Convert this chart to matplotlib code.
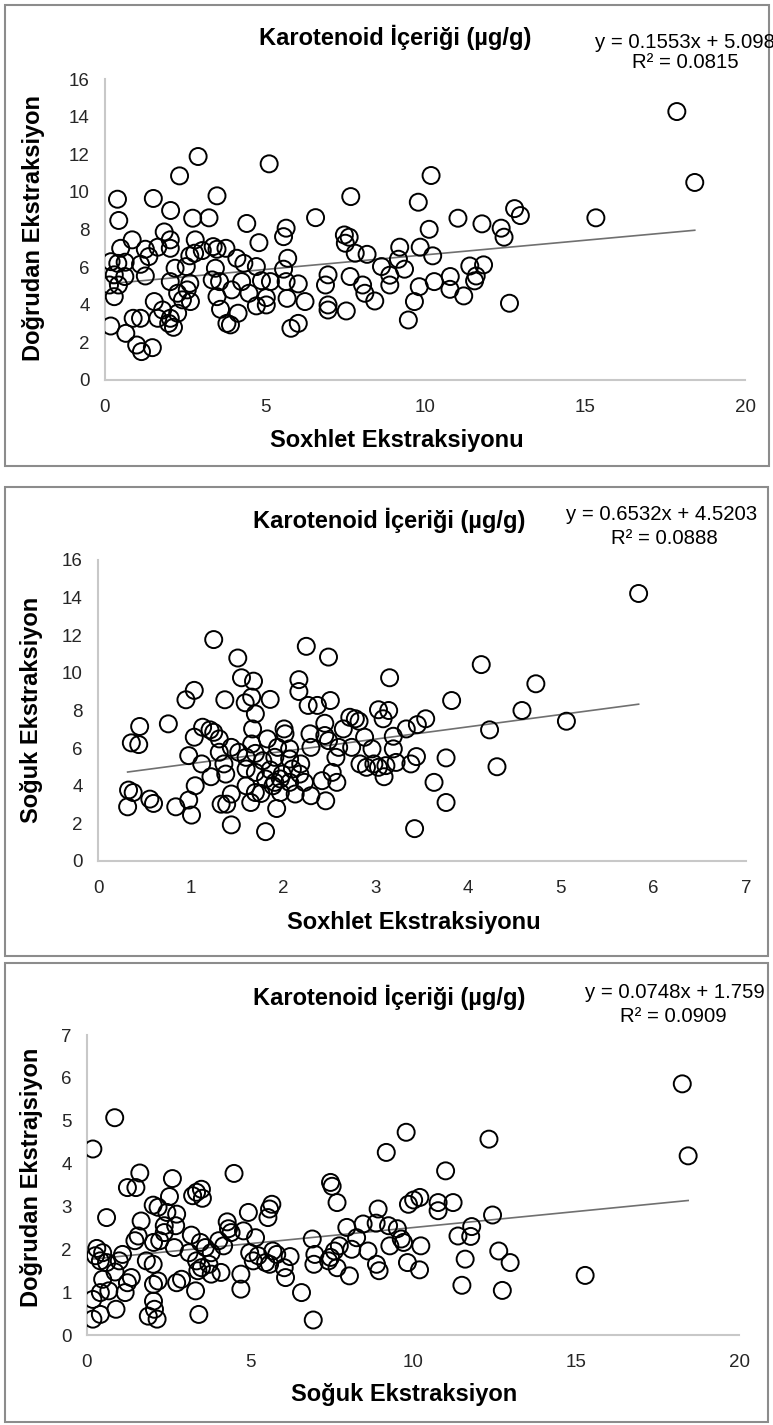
import numpy as np
import matplotlib
matplotlib.use('Agg')
import matplotlib.pyplot as plt
from matplotlib.patches import Rectangle

# panel 1: Soxhlet (x) vs Dogrudan (y)
sox_a = [17.87, 18.43, 2.91, 5.13, 2.33, 10.19, 0.39, 1.51, 3.5, 7.68, 9.79, 2.05, 0.43, 2.74, 3.25, 6.58,
         4.43, 11.03, 11.78, 12.8, 12.98, 15.34, 12.38, 12.47, 10.13, 5.66, 5.58, 1.85, 0.85, 2.04, 2.82, 4.81,
         7.48, 7.63, 7.51, 0.49, 1.26, 1.65, 2.04, 3.38, 3.5, 3.78, 9.21, 9.85, 2.8, 3.04, 2.65, 7.82, 8.19,
         5.71, 10.24, 1.37, 0.19, 0.4, 0.63, 1.11, 4.12, 4.34, 9.17, 3.45, 2.19, 2.54, 4.73, 5.58, 8.64, 9.36,
         11.4, 11.83, 8.9, 1.26, 0.62, 0.29, 6.97, 7.66, 10.79, 11.6, 2.04, 3.35, 3.58, 4.27, 4.89, 5.17, 5.66,
         6.04, 6.89, 8.05, 8.9, 9.82, 10.29, 11.55, 0.14, 0.42, 2.65, 3.96, 4.5, 2.57, 2.27, 8.12, 10.78, 11.21,
         0.29, 3.5, 2.42, 2.67, 5.04, 5.69, 6.25, 8.43, 9.67, 12.64, 1.54, 4.73, 5.04, 3.61, 1.8, 6.97, 6.97,
         7.54, 4.16, 2.27, 1.11, 0.88, 1.65, 2.04, 1.99, 2.14, 3.81, 3.92, 6.04, 5.81, 9.48, 0.18, 0.65, 0.99,
         1.14, 1.48]
dog_a = [14.27, 10.5, 11.88, 11.49, 10.85, 10.87, 9.61, 9.65, 9.79, 9.75, 9.45, 9.01, 8.48, 8.6, 8.62, 8.63,
         8.32, 8.6, 8.3, 9.11, 8.74, 8.62, 8.07, 7.59, 8.01, 8.07, 7.62, 7.87, 7.45, 7.45, 7.45, 7.3,
         7.71, 7.59, 7.27, 7.0, 6.95, 7.06, 7.0, 7.09, 6.95, 7.0, 7.06, 7.06, 6.74, 6.88, 6.6, 6.74, 6.68,
         6.47, 6.6, 6.56, 6.29, 6.2, 6.26, 6.15, 6.47, 6.2, 6.42, 5.94, 5.94, 6.03, 6.03, 5.89, 6.03, 5.89,
         6.06, 6.12, 5.57, 5.53, 5.5, 5.59, 5.59, 5.5, 5.5, 5.53, 5.23, 5.32, 5.23, 5.23, 5.28, 5.23, 5.23,
         5.11, 5.05, 5.05, 5.05, 4.96, 5.23, 5.27, 5.05, 5.05, 5.14, 4.79, 4.61, 4.79, 4.61, 4.61, 4.82, 4.47,
         4.43, 4.43, 4.26, 4.17, 4.38, 4.34, 4.17, 4.2, 4.17, 4.08, 4.17, 3.94, 3.99, 3.76, 3.72, 3.99, 3.72,
         3.67, 3.55, 3.55, 3.28, 3.28, 3.28, 3.28, 3.01, 2.8, 3.01, 2.93, 3.01, 2.75, 3.19, 2.87, 2.48, 1.86,
         1.51, 1.72]

# panel 2: Soxhlet (x) vs Soguk (y)
sox_b = [5.84, 1.25, 2.25, 1.51, 2.49, 4.14, 1.55, 1.68, 2.17, 3.15, 4.73, 1.04, 2.17, 0.95, 1.37, 1.66,
         1.59, 1.86, 2.27, 2.37, 2.51, 3.82, 0.76, 1.7, 3.03, 3.14, 3.08, 2.72, 2.78, 2.82, 2.45, 3.54, 3.45,
         4.58, 5.06, 0.45, 1.13, 1.21, 1.25, 1.67, 2.01, 2.02, 2.29, 2.45, 2.65, 3.33, 4.23, 2.88, 3.19, 0.36,
         0.44, 1.04, 1.31, 1.66, 1.83, 1.94, 2.07, 2.3, 2.49, 2.6, 2.74, 2.96, 3.19, 1.31, 1.44, 1.52, 0.98,
         1.12, 1.36, 1.6, 1.7, 1.78, 1.91, 2.07, 2.19, 2.57, 2.83, 2.9, 2.98, 3.03, 3.11, 3.22, 3.38, 3.44,
         3.76, 4.31, 1.6, 1.7, 1.86, 1.99, 2.1, 2.18, 2.53, 1.38, 1.22, 3.09, 1.81, 1.91, 1.97, 1.89, 2.07,
         2.23, 2.42, 2.58, 3.63, 0.33, 0.38, 1.05, 1.6, 1.7, 1.44, 1.76, 1.97, 2.13, 2.3, 0.56, 0.6, 0.98,
         1.33, 1.39, 1.65, 2.46, 3.76, 0.32, 0.84, 1.01, 1.93, 1.44, 1.81, 3.42]
sog_b = [14.22, 11.77, 11.41, 10.79, 10.84, 10.44, 9.74, 9.56, 9.64, 9.74, 9.42, 9.07, 9.01, 8.57, 8.57, 8.71,
         8.41, 8.59, 8.27, 8.27, 8.53, 8.53, 7.29, 7.82, 8.04, 8.0, 7.56, 7.64, 7.56, 7.43, 7.32, 7.56, 7.25,
         8.0, 7.43, 7.15, 7.11, 6.97, 6.84, 7.02, 7.02, 6.76, 6.76, 6.67, 7.02, 7.02, 6.97, 6.58, 6.63, 6.28,
         6.19, 6.58, 6.49, 6.22, 6.49, 6.04, 5.96, 6.04, 6.4, 6.04, 6.04, 5.96, 5.96, 5.78, 6.04, 5.78, 5.6,
         5.16, 5.16, 5.51, 5.72, 5.33, 5.51, 5.42, 5.16, 5.51, 5.16, 4.98, 5.16, 4.98, 5.07, 5.24, 5.16, 5.55,
         5.48, 5.01, 4.89, 4.71, 4.84, 4.62, 4.89, 4.62, 4.71, 4.62, 4.48, 4.48, 4.36, 4.18, 4.36, 4.0, 4.18,
         4.18, 4.27, 4.18, 4.18, 3.77, 3.64, 4.0, 4.0, 3.64, 3.56, 3.59, 3.64, 3.56, 3.47, 3.29, 3.06, 3.24,
         3.02, 3.02, 3.11, 3.2, 3.11, 2.88, 2.88, 2.44, 2.79, 1.92, 1.56, 1.72]

# panel 3: Soguk (x) vs Dogrudan (y)
sog_c = [18.26, 18.44, 0.85, 0.18, 9.79, 12.33, 9.18, 11.0, 1.62, 4.51, 2.62, 7.47, 7.52, 1.24, 1.5, 3.51,
         3.36, 3.24, 3.54, 2.53, 7.67, 5.67, 5.6, 5.55, 9.86, 10.02, 10.21, 10.77, 10.77, 11.23, 2.03, 2.18,
         8.93, 4.95, 2.45, 2.75, 0.6, 1.66, 4.3, 12.44, 2.37, 2.72, 4.34, 4.42, 7.97, 8.47, 8.87, 9.25, 9.52,
         11.8, 2.37, 4.8, 11.38, 11.77, 3.2, 1.57, 1.47, 8.27, 5.17, 6.91, 9.64, 9.71, 2.04, 2.23, 4.04, 4.19,
         3.48, 0.3, 0.48, 1.09, 2.68, 3.13, 3.63, 3.81, 4.99, 5.25, 5.7, 5.82, 6.23, 6.99, 7.47, 7.59, 7.74,
         8.12, 8.62, 9.29, 10.24, 12.63, 0.26, 0.41, 0.6, 0.99, 1.82, 2.03, 3.36, 3.51, 3.74, 5.1, 5.48, 5.6,
         6.05, 6.96, 7.41, 7.67, 8.88, 9.83, 11.6, 12.98, 0.86, 1.36, 3.4, 3.81, 4.11, 4.72, 8.05, 8.96, 10.2,
         0.48, 1.24, 2.18, 2.75, 2.9, 6.09, 15.28, 12.74, 11.5, 2.04, 0.67, 0.41, 1.17, 3.33, 4.72, 6.58,
         0.18, 2.04, 0.89, 0.41, 0.18, 1.88, 2.07, 2.15, 3.43, 6.94]
dog_c = [5.86, 4.18, 5.07, 4.34, 4.73, 4.57, 4.26, 3.83, 3.78, 3.77, 3.65, 3.56, 3.47, 3.44, 3.44, 3.4,
         3.33, 3.25, 3.19, 3.23, 3.09, 3.05, 2.94, 2.74, 3.05, 3.15, 3.21, 2.9, 3.09, 3.09, 3.03, 2.98,
         2.94, 2.86, 2.86, 2.82, 2.74, 2.66, 2.64, 2.8, 2.55, 2.55, 2.48, 2.39, 2.51, 2.59, 2.61, 2.55, 2.48,
         2.53, 2.39, 2.43, 2.31, 2.3, 2.33, 2.31, 2.2, 2.27, 2.27, 2.24, 2.24, 2.16, 2.16, 2.2, 2.2, 2.08,
         2.16, 2.02, 1.92, 1.88, 2.04, 1.92, 2.04, 1.92, 1.92, 1.85, 1.96, 1.88, 1.83, 1.88, 1.81, 1.96, 2.08,
         2.0, 1.96, 2.08, 2.08, 1.96, 1.85, 1.73, 1.69, 1.73, 1.73, 1.65, 1.73, 1.57, 1.65, 1.73, 1.69, 1.65,
         1.57, 1.65, 1.73, 1.57, 1.65, 1.69, 1.77, 1.69, 1.47, 1.34, 1.5, 1.42, 1.46, 1.42, 1.38, 1.5, 1.52,
         1.3, 1.22, 1.26, 1.22, 1.3, 1.34, 1.39, 1.04, 1.16, 1.18, 1.03, 0.99, 0.99, 1.03, 1.07, 0.99,
         0.83, 0.79, 0.6, 0.48, 0.37, 0.44, 0.6, 0.37, 0.48, 0.35]

title = 'Karotenoid İçeriği (µg/g)'

W, H = 773, 1425
plt.rcParams['font.family'] = ['Liberation Sans', 'DejaVu Sans']

fig = plt.figure(figsize=(W / 100, H / 100), dpi=100)


def px(x, y):
    return x / W, 1 - y / H


def panel(box, rect, x, y, xmax, xstep, ymax, ystep, fit, labels, pos):
    # outer frame of the chart
    x0, y0, x1, y1 = box
    fig.add_artist(Rectangle(px(x0, y1), (x1 - x0) / W, (y1 - y0) / H, transform=fig.transFigure,
                             fill=False, edgecolor='#8c8c8c', lw=1.5))
    ax = fig.add_axes(rect)
    ax.scatter(x, y, s=150, facecolors='none', edgecolors='black', linewidths=1.4, zorder=3)
    xs = np.array([min(x), max(x)])
    ax.plot(xs, fit[0] * xs + fit[1], color='#707070', lw=1.2, zorder=2)
    ax.set_xlim(0, xmax)
    ax.set_ylim(0, ymax)
    ax.set_xticks(np.arange(0, xmax + 0.1, xstep))
    ax.set_yticks(np.arange(0, ymax + 0.1, ystep))
    for s in ['top', 'right']:
        ax.spines[s].set_visible(False)
    for s in ['left', 'bottom']:
        ax.spines[s].set_color('#c8c8c8')
        ax.spines[s].set_linewidth(1.5)
    ax.tick_params(length=0, labelsize=13.5, colors='#262626')
    ax.tick_params(axis='x', pad=14)
    ax.tick_params(axis='y', pad=11)
    ax.patch.set_alpha(0)

    fig.text(*px(*pos['title']), title, ha='center', va='center', fontsize=17, fontweight='bold')
    fig.text(*px(*pos['eq']), labels[2], ha='left', va='center', fontsize=14.7)
    fig.text(*px(*pos['r2']), labels[3], ha='center', va='center', fontsize=14.7)
    fig.text(*px(*pos['xlab']), labels[0], ha='center', va='center', fontsize=17, fontweight='bold')
    fig.text(*px(*pos['ylab']), labels[1], ha='center', va='center', fontsize=17, fontweight='bold',
             rotation=90)


panel((5, 5, 769, 466), [105 / W, 1 - 380 / H, 640 / W, 301 / H], sox_a, dog_a, 20, 5, 16, 2,
      (0.1553, 5.098),
      ['Soxhlet Ekstraksiyonu', 'Doğrudan Ekstraksiyon', 'y = 0.1553x + 5.098', 'R² = 0.0815'],
      {'title': (395, 37), 'eq': (595, 42), 'r2': (685, 63), 'xlab': (397, 440), 'ylab': (34, 228)})

panel((5, 487, 768, 956), [98 / W, 1 - 861 / H, 648 / W, 301 / H], sox_b, sog_b, 7, 1, 16, 2,
      (0.6532, 4.5203),
      ['Soxhlet Ekstraksiyonu', 'Soğuk Ekstraksiyon', 'y = 0.6532x + 4.5203', 'R² = 0.0888'],
      {'title': (389, 520), 'eq': (566, 515), 'r2': (664, 539), 'xlab': (414, 922), 'ylab': (32, 710)})

panel((5, 963, 768, 1422), [87 / W, 1 - 1335 / H, 652 / W, 300 / H], sog_c, dog_c, 20, 5, 7, 1,
      (0.0748, 1.759),
      ['Soğuk Ekstraksiyon', 'Doğrudan Ekstrajsiyon', 'y = 0.0748x + 1.759', 'R² = 0.0909'],
      {'title': (389, 997), 'eq': (585, 992), 'r2': (673, 1017), 'xlab': (404, 1395), 'ylab': (32, 1177)})

fig.savefig('out.png', dpi=100)
